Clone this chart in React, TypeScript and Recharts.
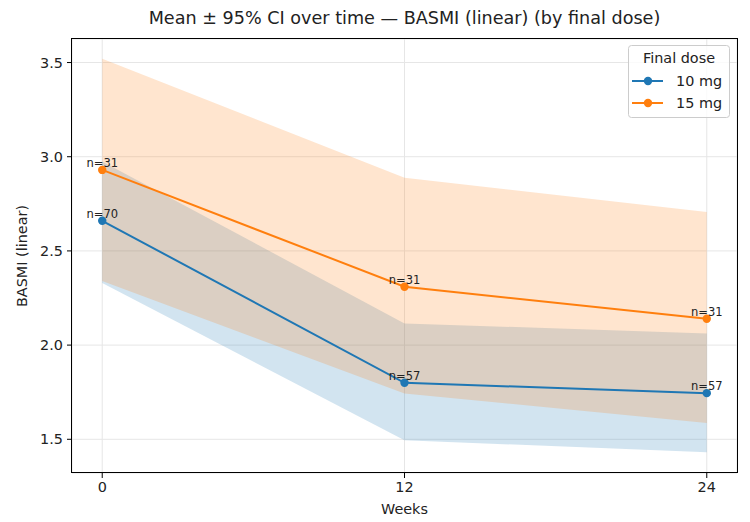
import {
  Area,
  CartesianGrid,
  ComposedChart,
  LabelList,
  Line,
  XAxis,
  YAxis,
} from "recharts";

const WEEKS = [0, 12, 24];

const MEAN_10 = [2.66, 1.8, 1.745];
const LOW_10 = [2.33, 1.495, 1.431];
const HIGH_10 = [2.975, 2.115, 2.062];
const N_10 = [70, 57, 57];

const MEAN_15 = [2.93, 2.31, 2.14];
const LOW_15 = [2.34, 1.743, 1.587];
const HIGH_15 = [3.52, 2.888, 2.707];
const N_15 = [31, 31, 31];

const Y_TICKS = [1.5, 2.0, 2.5, 3.0, 3.5];

const BLUE = "#1f77b4";
const ORANGE = "#ff7f0e";
const FONT = "'DejaVu Sans', sans-serif";
const FS = 14.4;

const LEGEND_ITEMS = [
  { name: "10 mg", color: BLUE },
  { name: "15 mg", color: ORANGE },
];

const rows = WEEKS.map((w, i) => ({
  week: w,
  mean10: MEAN_10[i],
  band10: [LOW_10[i], HIGH_10[i]],
  n10: N_10[i],
  mean15: MEAN_15[i],
  band15: [LOW_15[i], HIGH_15[i]],
  n15: N_15[i],
}));

const nLabel = (props: any) => {
  const { x, y, value } = props;
  return (
    <text x={x} y={y - 3} textAnchor="middle" fontSize={11.5} fill="#222" fontFamily={FONT}>
      n={value}
    </text>
  );
};

// matplotlib-style legend box, upper right
function LegendBox() {
  return (
    <svg
      width={750}
      height={522}
      style={{ position: "absolute", left: 0, top: 0, pointerEvents: "none", fontFamily: FONT }}
    >
      <rect x={628.5} y={45.5} width={101} height={72} rx={3} fill="#fff" fillOpacity={0.8} stroke="#cccccc" />
      <text x={679} y={63} textAnchor="middle" fontSize={FS} fill="#222">
        Final dose
      </text>
      {LEGEND_ITEMS.map((it, i) => {
        const cy = 81 + i * 22;
        return (
          <g key={it.name}>
            <line x1={632} y1={cy} x2={663} y2={cy} stroke={it.color} strokeWidth={2} />
            <circle cx={648} cy={cy} r={4.2} fill={it.color} />
            <text x={676} y={cy + 5} fontSize={FS} fill="#222">
              {it.name}
            </text>
          </g>
        );
      })}
    </svg>
  );
}

export default function App() {
  return (
    <div style={{ position: "absolute", left: 0, top: 0, width: 750, height: 522, background: "#fff" }}>
      <div
        style={{
          position: "absolute",
          left: 72,
          width: 665,
          top: 8,
          textAlign: "center",
          fontFamily: FONT,
          fontSize: 17.6,
          lineHeight: "21px",
          color: "#222",
        }}
      >
        Mean ± 95% CI over time — BASMI (linear) (by final dose)
      </div>
      <ComposedChart
        width={750}
        height={522}
        data={rows}
        margin={{ top: 39, right: 13, bottom: 0, left: 0 }}
        style={{ fontFamily: FONT }}
      >
        <CartesianGrid stroke="#e6e6e6" strokeWidth={1} />
        <XAxis
          dataKey="week"
          type="number"
          domain={[-1.2, 25.2]}
          ticks={WEEKS}
          allowDataOverflow
          height={49}
          axisLine={false}
          tickSize={5}
          tickMargin={4}
          tickLine={{ stroke: "#000" }}
          tick={{ fill: "#222", fontSize: FS }}
          label={{ value: "Weeks", position: "insideBottom", offset: 8, fill: "#222", fontSize: FS }}
        />
        <YAxis
          type="number"
          domain={[1.321, 3.625]}
          ticks={Y_TICKS}
          allowDataOverflow
          width={72}
          axisLine={false}
          tickSize={5}
          tickMargin={4}
          tickLine={{ stroke: "#000" }}
          tickFormatter={(v: number) => v.toFixed(1)}
          tick={{ fill: "#222", fontSize: FS }}
          label={{
            content: () => (
              <text
                x={27}
                y={256}
                transform="rotate(-90, 27, 256)"
                textAnchor="middle"
                fontSize={FS}
                fill="#222"
                fontFamily={FONT}
              >
                BASMI (linear)
              </text>
            ),
          }}
        />
        <Area
          dataKey="band10"
          type="linear"
          stroke="none"
          fill={BLUE}
          fillOpacity={0.2}
          isAnimationActive={false}
          activeDot={false}
        />
        <Line
          dataKey="mean10"
          type="linear"
          stroke={BLUE}
          strokeWidth={2}
          dot={{ r: 4.2, fill: BLUE, stroke: "none" }}
          activeDot={false}
          isAnimationActive={false}
        >
          <LabelList dataKey="n10" content={nLabel} />
        </Line>
        <Area
          dataKey="band15"
          type="linear"
          stroke="none"
          fill={ORANGE}
          fillOpacity={0.2}
          isAnimationActive={false}
          activeDot={false}
        />
        <Line
          dataKey="mean15"
          type="linear"
          stroke={ORANGE}
          strokeWidth={2}
          dot={{ r: 4.2, fill: ORANGE, stroke: "none" }}
          activeDot={false}
          isAnimationActive={false}
        >
          <LabelList dataKey="n15" content={nLabel} />
        </Line>
      </ComposedChart>
      <LegendBox />
      <div
        style={{
          position: "absolute",
          left: 71,
          top: 38,
          width: 667,
          height: 435,
          boxSizing: "border-box",
          border: "1.1px solid #000",
          pointerEvents: "none",
        }}
      />
    </div>
  );
}
